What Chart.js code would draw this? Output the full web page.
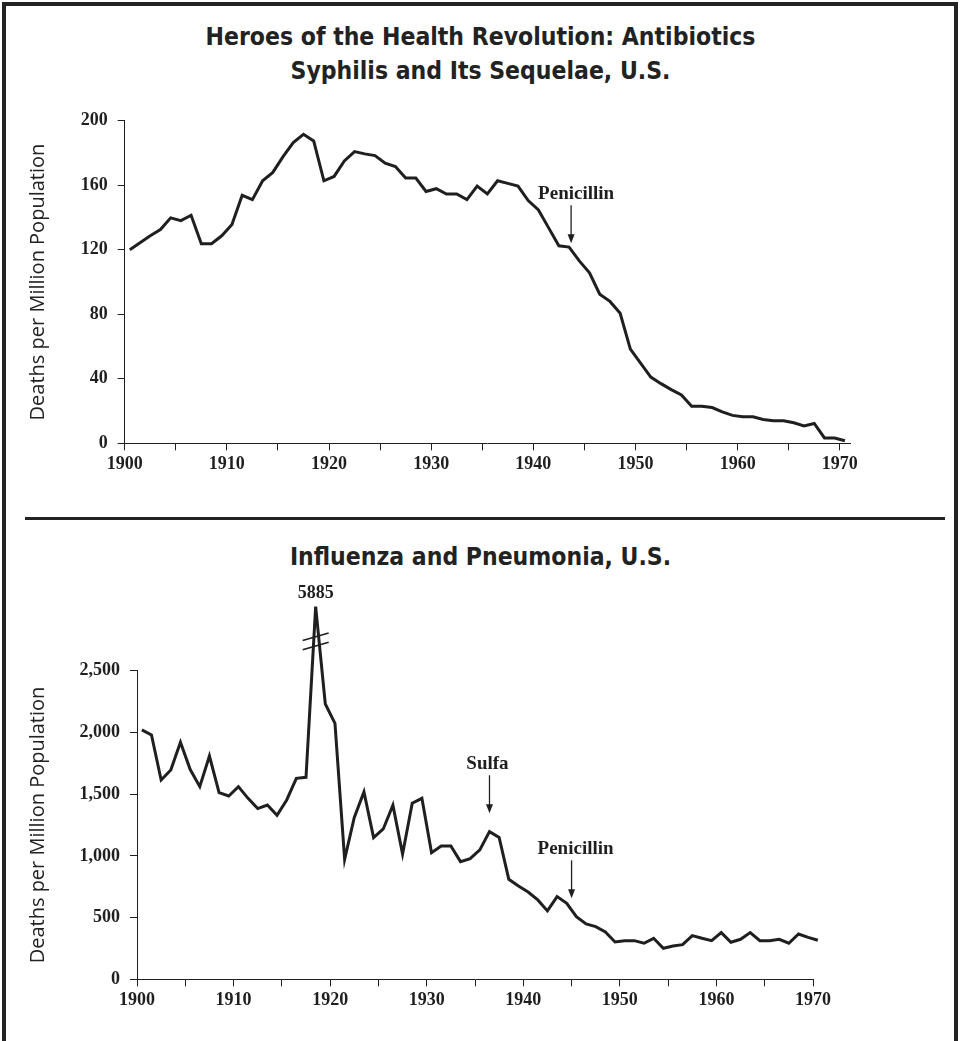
<!DOCTYPE html>
<html>
<head>
<meta charset="utf-8">
<script src="https://cdn.jsdelivr.net/npm/chart.js@4/dist/chart.umd.min.js"></script>
<style>
html,body{margin:0;padding:0;background:#fff;}
#page{position:relative;width:961px;height:1041px;overflow:hidden;background:#fff;}
#frame{position:absolute;left:2px;top:2px;width:948px;height:1100px;border:4px solid #222;}
.title{position:absolute;left:0;width:961px;text-align:center;font-family:"DejaVu Sans Condensed","DejaVu Sans",sans-serif;font-weight:bold;font-size:24.5px;color:#222;line-height:1;}
#divider{position:absolute;left:25px;width:920px;top:517px;height:3px;background:#222;}
.wrap{position:absolute;left:0;}
</style>
</head>
<body>
<div id="page">
  <div id="frame"></div>
  <div class="title" style="top:25px">Heroes of the Health Revolution: Antibiotics</div>
  <div class="title" style="top:59px">Syphilis and Its Sequelae, U.S.</div>
  <div id="divider"></div>
  <div class="title" style="top:545px">Influenza and Pneumonia, U.S.</div>
  <div class="wrap" style="top:100px;width:961px;height:400px"><canvas id="c1" width="961" height="400"></canvas></div>
  <div class="wrap" style="top:540px;width:961px;height:501px"><canvas id="c2" width="961" height="501"></canvas></div>
</div>
<script>
// ---------- data ----------
const years = [1900,1901,1902,1903,1904,1905,1906,1907,1908,1909,
  1910,1911,1912,1913,1914,1915,1916,1917,1918,1919,
  1920,1921,1922,1923,1924,1925,1926,1927,1928,1929,
  1930,1931,1932,1933,1934,1935,1936,1937,1938,1939,
  1940,1941,1942,1943,1944,1945,1946,1947,1948,1949,
  1950,1951,1952,1953,1954,1955,1956,1957,1958,1959,
  1960,1961,1962,1963,1964,1965,1966,1967,1968,1969,1970];

const syphilisDeaths = [120.1,124.4,128.7,132.6,139.8,138.1,141.4,123.8,123.8,128.7,
  135.7,153.8,151.1,162.8,168.0,177.8,186.5,191.6,187.5,162.8,
  165.5,175.1,180.9,179.5,178.4,173.7,171.6,164.5,164.5,156.2,
  157.9,154.6,154.6,151.1,159.5,154.6,162.8,161.2,159.5,150.5,
  144.7,133.6,122.5,121.7,113.1,105.7,92.5,88.0,80.6,58.4,
  49.7,41.1,37.0,33.3,30.0,23.0,23.0,22.2,19.5,17.3,
  16.4,16.4,14.8,14.0,14.0,12.7,10.7,12.3,3.3,3.3,1.6];

const influenzaDeaths = [2020,1979,1615,1696,1920,1701,1561,1809,1512,1485,
  1561,1466,1383,1412,1329,1453,1628,1636,5885,2230,
  2074,972,1312,1518,1148,1218,1410,1015,1426,1466,
  1026,1080,1080,953,978,1048,1196,1150,810,756,
  707,643,554,670,616,508,448,427,383,302,
  313,313,292,332,251,270,281,354,332,313,
  378,300,324,378,313,313,324,292,367,340,316];

const xTickValues = [1900,1905,1910,1915,1920,1925,1930,1935,1940,1945,1950,1955,1960,1965,1970];
const yTicksTop = [0,40,80,120,160,200];
const yTicksBottom = [0,500,1000,1500,2000,2500];

const notesTop = [{text:'Penicillin', year:1943.7, tip:124, dx:5}];
const notesBottom = [
  {text:'Sulfa', year:1936.5, tip:1345, dx:-2},
  {text:'Penicillin', year:1945.0, tip:656, dx:4}
];
const breakLow = 2700, breakHigh = 2775;   // axis-break marks (display units)
const breakStart = 2800, breakShownTop = 3019; // values above breakStart are compressed

// ---------- broken linear scale ----------
const peakValue = Math.max(...influenzaDeaths);
function compress(v){
  if (v <= breakStart) return v;
  return breakStart + (v - breakStart) * (breakShownTop - breakStart) / (peakValue - breakStart);
}
class BreakScale extends Chart.LinearScale {
  getPixelForValue(v, i){ return super.getPixelForValue(compress(v), i); }
}
BreakScale.id = 'breakLinear';
BreakScale.defaults = Chart.LinearScale.defaults;
Chart.register(BreakScale);

const INK = '#1f1f1f';
const tickFont = {family:'"Liberation Serif", "Times New Roman", serif', weight:'bold', size:18};
const axisTitleFont = {family:'"Open Sans", "DejaVu Sans", sans-serif', size:20};

function annotate(chart, notes){
  const {ctx, scales:{x, y}} = chart;
  ctx.save();
  ctx.fillStyle = INK; ctx.strokeStyle = INK;
  ctx.font = 'bold 19px "Liberation Serif", serif';
  ctx.textAlign = 'center'; ctx.textBaseline = 'alphabetic';
  notes.forEach(n => {
    const px = x.getPixelForValue(n.year);
    const tip = y.getPixelForValue(n.tip);
    const start = tip - 38;
    ctx.lineWidth = 1.3;
    ctx.beginPath(); ctx.moveTo(px, start); ctx.lineTo(px, tip - 7); ctx.stroke();
    ctx.beginPath(); ctx.moveTo(px - 3.5, tip - 9); ctx.lineTo(px + 3.5, tip - 9); ctx.lineTo(px, tip); ctx.closePath(); ctx.fill();
    ctx.fillText(n.text, px + n.dx, start - 6);
  });
  ctx.restore();
}

function makeChart(id, values, opts){
  const points = years.map((yr, i) => ({x: yr + 0.5, y: values[i]}));
  return new Chart(document.getElementById(id), {
    type: 'line',
    data: {datasets: [{
      data: points, borderColor: INK, borderWidth: 3, pointRadius: 0,
      tension: 0, fill: false, clip: false
    }]},
    options: {
      responsive: false, animation: false, events: [],
      layout: {padding: opts.padding},
      plugins: {legend: {display: false}, tooltip: {enabled: false}, title: {display: false}},
      scales: {
        x: {
          type: 'linear', min: 1900, max: opts.xMax,
          afterBuildTicks: s => { s.ticks = xTickValues.map(v => ({value: v})); },
          afterFit: s => { s.height = opts.xHeight; },
          grid: {drawOnChartArea: false, drawTicks: true, tickLength: 7, tickColor: INK, tickWidth: 1},
          border: {display: true, color: INK, width: 1},
          ticks: {autoSkip: false, maxRotation: 0, padding: 3, color: INK, font: tickFont,
            callback: v => (v % 10 === 0 ? String(v) : '')}
        },
        y: {
          type: opts.yType, min: 0, max: opts.yMax,
          afterBuildTicks: s => { s.ticks = opts.yTicks.map(v => ({value: v})); },
          afterFit: s => { s.width = opts.yWidth; },
          grid: {drawOnChartArea: false, drawTicks: true, tickLength: 7, tickColor: INK, tickWidth: 1},
          border: {display: true, color: INK, width: 1},
          ticks: {padding: 10, color: INK, font: tickFont,
            callback: v => Number(v).toLocaleString('en-US')},
          title: {display: true, text: 'Deaths per Million Population', color: '#222',
            font: axisTitleFont, padding: {top: 26, bottom: 0}}
        }
      }
    },
    plugins: [{id: 'notes', afterDatasetsDraw: c => opts.draw(c)}]
  });
}

makeChart('c1', syphilisDeaths, {
  padding: {top: 19, right: 111, left: 0, bottom: 0},
  xMax: 1971, xHeight: 56.7, yWidth: 124.7,
  yType: 'linear', yMax: 200, yTicks: yTicksTop,
  draw: c => annotate(c, notesTop)
});

makeChart('c2', influenzaDeaths, {
  padding: {top: 130.7, right: 148, left: 0, bottom: 0},
  xMax: 1970, xHeight: 61.7, yWidth: 137,
  yType: 'breakLinear', yMax: 2500, yTicks: yTicksBottom,
  draw: c => {
    annotate(c, notesBottom);
    const {ctx, scales:{x, y}} = c;
    const i = influenzaDeaths.indexOf(peakValue);
    const px = x.getPixelForValue(years[i] + 0.5);
    const py = y.getPixelForValue(peakValue);
    ctx.save();
    ctx.fillStyle = INK; ctx.strokeStyle = INK;
    ctx.font = 'bold 18px "Liberation Serif", serif';
    ctx.textAlign = 'center'; ctx.textBaseline = 'alphabetic';
    ctx.fillText(String(peakValue), px, py - 9);
    ctx.lineWidth = 1.6;
    [breakLow, breakHigh].forEach(v => {
      const by = y.getPixelForValue(v);
      ctx.beginPath(); ctx.moveTo(px - 13, by + 3.8); ctx.lineTo(px + 13, by - 3.8); ctx.stroke();
    });
    ctx.restore();
  }
});
</script>
</body>
</html>
